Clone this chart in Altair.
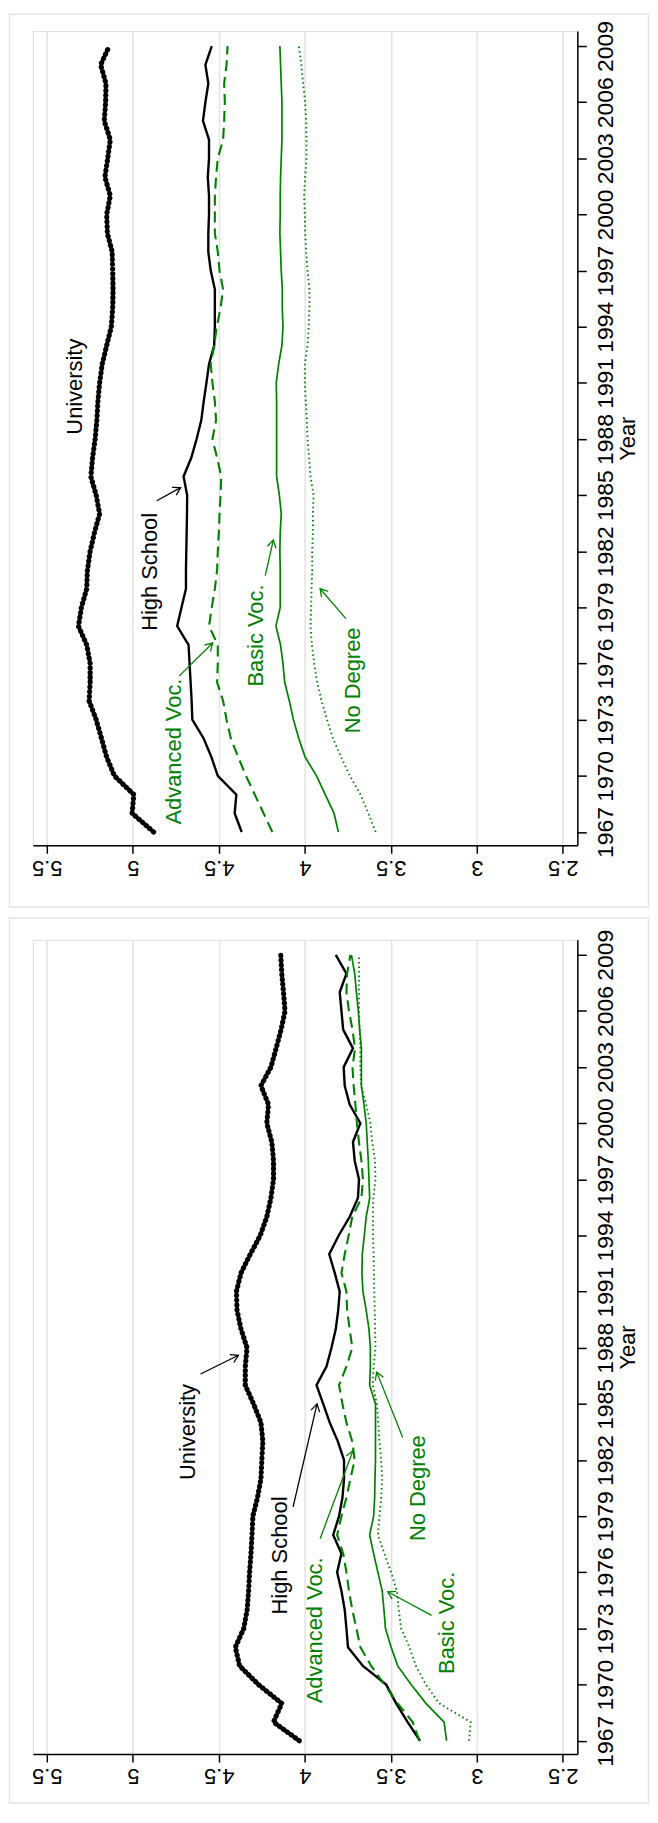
import math
import altair as alt
import pandas as pd

# ---------------- data ----------------
years = list(range(1967, 2010))
series_names = ["University", "High School", "Advanced Voc.", "Basic Voc.", "No Degree"]

# upper panel
top_university = [4.879, 5.004, 4.994, 5.107, 5.152, 5.182, 5.213, 5.254, 5.248, 5.248,
                  5.268, 5.316, 5.299, 5.268, 5.264, 5.248, 5.223, 5.193, 5.213, 5.244,
                  5.234, 5.219, 5.209, 5.203, 5.193, 5.178, 5.152, 5.125, 5.117, 5.115,
                  5.117, 5.120, 5.148, 5.152, 5.131, 5.162, 5.146, 5.131, 5.166, 5.158,
                  5.156, 5.187, 5.137]
top_high_school = [4.367, 4.408, 4.398, 4.506, 4.543, 4.588, 4.654, 4.658, 4.664, 4.670,
                   4.676, 4.742, 4.717, 4.691, 4.691, 4.689, 4.687, 4.685, 4.684, 4.705,
                   4.660, 4.629, 4.602, 4.588, 4.572, 4.557, 4.527, 4.523, 4.523, 4.523,
                   4.547, 4.561, 4.561, 4.557, 4.557, 4.564, 4.557, 4.557, 4.592, 4.578,
                   4.561, 4.578, 4.541]
top_advanced_voc = [4.189, 4.240, 4.291, 4.342, 4.387, 4.430, 4.455, 4.475, 4.510, 4.506,
                    4.506, 4.557, 4.541, 4.523, 4.510, 4.506, 4.500, 4.496, 4.490, 4.486,
                    4.510, 4.537, 4.516, 4.523, 4.537, 4.547, 4.527, 4.512, 4.490, 4.475,
                    4.496, 4.506, 4.523, 4.523, 4.523, 4.516, 4.506, 4.475, 4.469, 4.465,
                    4.469, 4.455, 4.449]
top_basic_voc = [3.805, 3.830, 3.881, 3.932, 3.998, 4.035, 4.066, 4.090, 4.117, 4.127,
                 4.141, 4.168, 4.143, 4.143, 4.143, 4.145, 4.143, 4.137, 4.148, 4.164,
                 4.164, 4.164, 4.164, 4.164, 4.166, 4.152, 4.133, 4.127, 4.131, 4.131,
                 4.137, 4.141, 4.145, 4.143, 4.143, 4.141, 4.137, 4.133, 4.133, 4.133,
                 4.137, 4.141, 4.145]
top_no_degree = [3.588, 3.631, 3.676, 3.738, 3.789, 3.836, 3.871, 3.902, 3.928, 3.945,
                 3.959, 3.967, 3.963, 3.961, 3.957, 3.957, 3.953, 3.953, 3.949, 3.967,
                 3.975, 3.984, 3.988, 3.994, 4.000, 4.000, 3.984, 3.977, 3.973, 3.973,
                 3.984, 3.992, 3.998, 4.000, 4.004, 3.998, 3.990, 3.990, 3.992, 3.998,
                 4.010, 4.020, 4.035]

# lower panel
bottom_university = [4.032, 4.182, 4.134, 4.269, 4.379, 4.404, 4.355, 4.335, 4.327, 4.321,
                     4.313, 4.307, 4.302, 4.275, 4.255, 4.250, 4.244, 4.255, 4.298, 4.346,
                     4.346, 4.336, 4.371, 4.394, 4.398, 4.371, 4.317, 4.259, 4.221, 4.197,
                     4.182, 4.182, 4.192, 4.221, 4.211, 4.255, 4.197, 4.167, 4.138, 4.115,
                     4.124, 4.134, 4.140]
bottom_high_school = [3.330, 3.402, 3.469, 3.527, 3.662, 3.749, 3.758, 3.768, 3.787, 3.812,
                      3.787, 3.835, 3.801, 3.781, 3.772, 3.772, 3.808, 3.855, 3.893, 3.932,
                      3.874, 3.845, 3.820, 3.806, 3.797, 3.826, 3.858, 3.803, 3.739, 3.691,
                      3.685, 3.710, 3.720, 3.677, 3.739, 3.768, 3.774, 3.720, 3.777, 3.787,
                      3.797, 3.758, 3.820]
bottom_advanced_voc = [3.334, 3.373, 3.460, 3.537, 3.614, 3.677, 3.700, 3.724, 3.743, 3.758,
                       3.777, 3.812, 3.787, 3.758, 3.735, 3.710, 3.724, 3.758, 3.781, 3.801,
                       3.758, 3.724, 3.739, 3.754, 3.758, 3.787, 3.768, 3.745, 3.724, 3.671,
                       3.662, 3.671, 3.685, 3.697, 3.706, 3.716, 3.723, 3.708, 3.723, 3.743,
                       3.758, 3.754, 3.735]
bottom_basic_voc = [3.176, 3.190, 3.296, 3.382, 3.460, 3.498, 3.531, 3.540, 3.550, 3.575,
                    3.600, 3.623, 3.600, 3.594, 3.592, 3.589, 3.589, 3.589, 3.589, 3.623,
                    3.619, 3.619, 3.627, 3.643, 3.662, 3.668, 3.666, 3.654, 3.643, 3.623,
                    3.627, 3.631, 3.637, 3.643, 3.656, 3.671, 3.671, 3.671, 3.681, 3.689,
                    3.700, 3.710, 3.729]
bottom_no_degree = [3.045, 3.036, 3.219, 3.296, 3.354, 3.392, 3.440, 3.454, 3.465, 3.498,
                    3.537, 3.575, 3.566, 3.556, 3.550, 3.556, 3.566, 3.573, 3.581, 3.604,
                    3.600, 3.589, 3.591, 3.594, 3.596, 3.598, 3.600, 3.604, 3.604, 3.602,
                    3.589, 3.592, 3.608, 3.619, 3.643, 3.673, 3.677, 3.677, 3.681, 3.685,
                    3.685, 3.685, 3.685]

# annotation labels
label_texts = ["University", "High School", "Advanced Voc.", "Basic Voc.", "No Degree"]
top_label_value = [5.335, 4.901, 4.762, 4.282, 3.720]
top_label_year = [1990.8, 1980.9, 1971.3, 1977.5, 1975.1]
bottom_label_value = [4.681, 4.143, 3.940, 3.171, 3.344]
bottom_label_year = [1983.5, 1976.9, 1972.9, 1973.3, 1980.5]

# arrows (start -> head)
top_arrow_series = ["High School", "Advanced Voc.", "Basic Voc.", "No Degree"]
top_arrow_v0 = [4.861, 4.731, 4.230, 3.761]
top_arrow_y0 = [1984.7, 1975.33, 1980.7, 1978.4]
top_arrow_v1 = [4.722, 4.536, 4.183, 3.911]
top_arrow_y1 = [1985.4, 1977.1, 1982.6, 1980.0]
bottom_arrow_series = ["University", "High School", "Advanced Voc.", "Basic Voc.", "No Degree"]
bottom_arrow_v0 = [4.606, 4.068, 3.911, 3.263, 3.431]
bottom_arrow_y0 = [1986.6, 1979.5, 1977.8, 1973.7, 1983.2]
bottom_arrow_v1 = [4.386, 3.929, 3.720, 3.518, 3.582]
bottom_arrow_y1 = [1987.6, 1985.0, 1982.5, 1974.96, 1986.7]

value_ticks = [2.5, 3, 3.5, 4, 4.5, 5, 5.5]
year_ticks = list(range(1967, 2010, 3))

# ---------------- styling ----------------
W, H = 547, 818
X_DOMAIN = [5.581 - W / 172.8, 5.581]
Y_DOMAIN = [2009.8 - H / 18.8, 2009.8]
PX_V = W / (X_DOMAIN[1] - X_DOMAIN[0])
PX_Y = H / (Y_DOMAIN[1] - Y_DOMAIN[0])
GREEN = "#008000"
FONT = "Liberation Sans"
series_colors = ["black", "black", GREEN, GREEN, GREEN]
color_scale = alt.Scale(domain=series_names, range=series_colors)

line_styles = {
    "University": dict(color="black", strokeWidth=5.2, strokeDash=[0.5, 4.3], strokeCap="round"),
    "High School": dict(color="black", strokeWidth=2.4),
    "Advanced Voc.": dict(color=GREEN, strokeWidth=2.1, strokeDash=[11, 6]),
    "Basic Voc.": dict(color=GREEN, strokeWidth=1.7),
    "No Degree": dict(color=GREEN, strokeWidth=1.9, strokeDash=[1.5, 3]),
}

x_axis = alt.Axis(values=value_ticks, format="~g", labelAngle=180, labelAlign="center",
                  labelBaseline="alphabetic", labelFontSize=22, labelPadding=7,
                  tickSize=8, tickWidth=1.5, tickColor="black", domainColor="black",
                  domainWidth=1.5, grid=True, gridColor="#e2e2e2", gridWidth=1.5,
                  labelOverlap=False, labelFlush=False, title=None, labelColor="black")
y_axis = alt.Axis(values=year_ticks, format="d", orient="right", labelAngle=270,
                  labelAlign="center", labelBaseline="top", labelFontSize=23,
                  labelPadding=8, tickSize=9, tickWidth=1.5, tickColor="black",
                  domainColor="black", domainWidth=1.5, grid=False, labelOverlap=False,
                  labelFlush=False, labelColor="black", title="Year", titleAngle=270,
                  titleAlign="center", titleBaseline="middle", titleX=50, titleY=H / 2,
                  titleFontSize=22, titleFontWeight="normal", titleColor="black")

X = alt.X("Value:Q", scale=alt.Scale(domain=X_DOMAIN, reverse=True, nice=False, zero=False), axis=x_axis)
Y = alt.Y("Year:Q", scale=alt.Scale(domain=Y_DOMAIN, nice=False, zero=False), axis=y_axis)
Xn = alt.X("Value:Q", scale=alt.Scale(domain=X_DOMAIN, reverse=True, nice=False, zero=False))
Yn = alt.Y("Year:Q", scale=alt.Scale(domain=Y_DOMAIN, nice=False, zero=False))

# custom open arrowhead, tip at the origin, pointing to +x
ARROW = "M -1 -0.6 L 0 0 L -1 0.6"


def panel(series_values, lab_v, lab_y, ar_s, ar_v0, ar_y0, ar_v1, ar_y1, border):
    layers = []
    bl, br, bt, bb = border
    layers.append(
        alt.Chart(alt.Data(values=[{"k": 1}])).mark_rect(
            fillOpacity=0, stroke="#e4e4e4", strokeWidth=1.5
        ).encode(x=alt.value(bl), x2=alt.value(br), y=alt.value(bt), y2=alt.value(bb))
    )
    first = True
    for name, vals in zip(series_names, series_values):
        df = pd.DataFrame({"Year": years, "Value": vals})
        layers.append(
            alt.Chart(df).mark_line(**line_styles[name]).encode(
                x=X if first else Xn, y=Y if first else Yn, order="Year:Q"
            )
        )
        first = False
    lab_df = pd.DataFrame({"Value": lab_v, "Year": lab_y, "Label": label_texts, "Series": label_texts})
    layers.append(
        alt.Chart(lab_df).mark_text(angle=270, fontSize=22, align="center", baseline="middle",
                                    font=FONT).encode(
            x=Xn, y=Yn, text="Label:N", color=alt.Color("Series:N", scale=color_scale, legend=None)
        )
    )
    angles = []
    for a, b, c, d in zip(ar_v0, ar_y0, ar_v1, ar_y1):
        dx = -(c - a) * PX_V
        dy = -(d - b) * PX_Y
        angles.append(math.degrees(math.atan2(dy, dx)) % 360)
    ar_df = pd.DataFrame({"Value": ar_v0, "Year": ar_y0, "Value2": ar_v1, "Year2": ar_y1,
                          "Series": ar_s, "Angle": angles})
    layers.append(
        alt.Chart(ar_df).mark_rule(strokeWidth=1.3).encode(
            x=Xn, y=Yn, x2="Value2:Q", y2="Year2:Q",
            color=alt.Color("Series:N", scale=color_scale, legend=None)
        )
    )
    head_df = pd.DataFrame({"Value": ar_v1, "Year": ar_y1, "Series": ar_s, "Angle": angles})
    layers.append(
        alt.Chart(head_df).mark_point(shape=ARROW, size=220, filled=False, strokeWidth=1.3,
                                      opacity=1).encode(
            x=Xn, y=Yn, angle=alt.Angle("Angle:Q", scale=None),
            color=alt.Color("Series:N", scale=color_scale, legend=None)
        )
    )
    return alt.layer(*layers).properties(width=W, height=H)


top = panel([top_university, top_high_school, top_advanced_voc, top_basic_voc, top_no_degree],
            top_label_value, top_label_year, top_arrow_series,
            top_arrow_v0, top_arrow_y0, top_arrow_v1, top_arrow_y1,
            (-23.5, 618.5, -17, 880))
bottom = panel([bottom_university, bottom_high_school, bottom_advanced_voc, bottom_basic_voc,
                bottom_no_degree],
               bottom_label_value, bottom_label_year, bottom_arrow_series,
               bottom_arrow_v0, bottom_arrow_y0, bottom_arrow_v1, bottom_arrow_y1,
               (-23.5, 618.5, -22, 867))

chart = alt.vconcat(top, bottom, spacing=95, bounds="flush").properties(
    padding=0, background="white"
).configure_view(strokeWidth=0).configure(font=FONT)

chart.save("out.html", embed_options={"renderer": "svg", "actions": False})
